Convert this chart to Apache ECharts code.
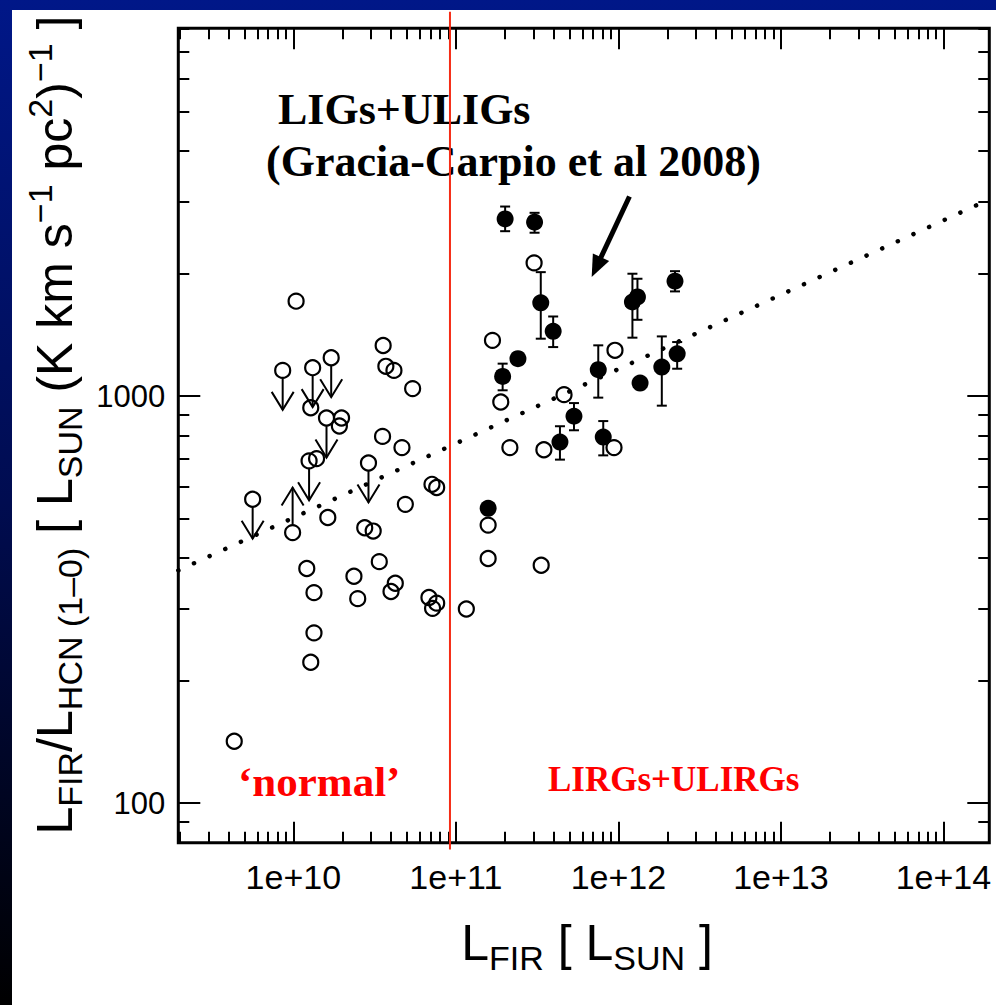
<!DOCTYPE html>
<html>
<head>
<meta charset="utf-8">
<script src="https://cdn.jsdelivr.net/npm/echarts@6/dist/echarts.min.js"></script>
<style>
html,body{margin:0;padding:0;background:#fff;}
#chart{width:996px;height:1005px;}
</style>
</head>
<body>
<div id="chart"></div>
<script>
// ---------------- data ----------------
const xRange = [1.96e9, 1.915e14];
const yRange = [80, 8000];
const xMajorTicks = [1e10, 1e11, 1e12, 1e13, 1e14];
const xTickLabels = ['1e+10', '1e+11', '1e+12', '1e+13', '1e+14'];
const yMajorTicks = [100, 1000];
const yTickLabels = ['100', '1000'];

// 'normal' galaxies, detections (open circles)
const normalX = [1.04e10, 1.28e10, 1.98e10, 1.92e10, 3.57e10, 3.71e10, 4.16e10, 5.42e10, 3.54e10, 4.66e10,
                 1.39e10, 1.63e10, 2.75e10, 3.10e10, 4.89e10, 7.13e10, 7.62e10, 1.21e10, 1.34e10, 2.36e10,
                 2.49e10, 3.38e10, 4.24e10, 3.99e10, 6.83e10, 7.62e10, 7.19e10, 1.16e11, 1.34e10, 1.28e10, 4.33e9];
const normalY = [1710, 936, 883, 844, 1331, 1183, 1156, 1043, 796, 747,
                 702, 503, 475, 466, 542, 607, 596, 377, 329, 361,
                 318, 392, 347, 331, 320, 310, 301, 300, 262, 222, 142];

// upper limits (open circle + down arrow)
const upperX = [8.6e9, 1.315e10, 1.71e10, 1.60e10, 1.25e10, 2.90e10, 5.62e9];
const upperY = [1156, 1174, 1242, 883, 693, 685, 558];
const upperArrowFactor = 0.8;
// lower limit (open circle + up arrow)
const lowerX = [9.9e9];
const lowerY = [462];
const lowerArrowFactor = 1.29;

// LIRGs, open circles
const lirgOpenX = [3.03e11, 1.68e11, 1.89e11, 2.15e11, 3.48e11, 4.63e11, 9.53e11, 9.4e11, 1.58e11, 1.58e11, 3.35e11];
const lirgOpenY = [2123, 1370, 967, 747, 738, 1008, 1295, 747, 399, 482, 384];

// LIGs+ULIGs (Gracia-Carpio et al 2008), filled circles with error bars
const filledX = [2.01e11, 3.05e11, 3.33e11, 3.97e11, 2.41e11, 1.94e11, 4.37e11, 5.33e11, 7.52e11, 8.07e11,
                 1.22e12, 1.31e12, 1.36e12, 1.85e12, 2.30e12, 2.23e12, 1.58e11];
const filledY = [2723, 2672, 1694, 1442, 1235, 1117, 771, 892, 1161, 793,
                 1702, 1751, 1076, 1178, 1270, 1914, 530];
const filledErrLo = [2540, 2518, 1383, 1319, null, 1033, 698, 824, 991, 715,
                     1391, 1539, null, 947, 1167, 1807, null];
const filledErrHi = [2920, 2818, 2015, 1568, null, 1201, 843, 961, 1332, 868,
                     1997, 1941, null, 1401, 1357, 2026, null];

// dotted fit line
const fitX = [1.96e9, 1.915e14];
const fitY = [373, 3040];

// vertical divider (red)
const dividerX = 9.2e10;
const dividerY = [77, 8790];

// annotation arrow
const pointerFrom = [1.17e12, 3091];
const pointerTo = [6.85e11, 1959];

// ---------------- helpers ----------------
const L = Math.log10;
function minorTicks(lo, hi) {
  const out = [];
  for (let e = Math.floor(L(lo)); e <= Math.ceil(L(hi)); e++) {
    for (let k = 2; k <= 9; k++) {
      const v = k * Math.pow(10, e);
      if (v >= lo && v <= hi) out.push(v);
    }
  }
  return out;
}
const xMinor = minorTicks(xRange[0], xRange[1]);
const yMinor = minorTicks(yRange[0], yRange[1]);

function labelFor(v, majors, labels) {
  for (let i = 0; i < majors.length; i++) if (Math.abs(L(majors[i]) - v) < 1e-6) return labels[i];
  return '';
}

const tickStyle = { color: '#000', width: 2 };
function xAxisCfg(position, ticks, len, withLabels) {
  return {
    type: 'value', position: position, min: L(xRange[0]), max: L(xRange[1]),
    axisLine: { show: false }, splitLine: { show: false },
    axisTick: { show: true, inside: true, length: len, customValues: ticks.map(L), lineStyle: tickStyle },
    axisLabel: withLabels ? {
      show: true, customValues: xMajorTicks.map(L), margin: 17, color: '#000',
      fontSize: 34, fontFamily: 'Liberation Sans',
      formatter: v => labelFor(v, xMajorTicks, xTickLabels)
    } : { show: false }
  };
}
function yAxisCfg(position, ticks, len, withLabels) {
  return {
    type: 'value', position: position, min: L(yRange[0]), max: L(yRange[1]),
    axisLine: { show: false }, splitLine: { show: false },
    axisTick: { show: true, inside: true, length: len, customValues: ticks.map(L), lineStyle: tickStyle },
    axisLabel: withLabels ? {
      show: true, customValues: yMajorTicks.map(L), margin: 13, color: '#000',
      fontSize: 31, fontFamily: 'Liberation Sans',
      formatter: v => labelFor(v, yMajorTicks, yTickLabels)
    } : { show: false }
  };
}

const pts = (xs, ys) => xs.map((x, i) => [L(x), L(ys[i])]);

const errData = [];
filledX.forEach((x, i) => {
  if (filledErrLo[i] != null) errData.push([L(x), L(filledY[i]), L(filledErrLo[i]), L(filledErrHi[i])]);
});
const limitData = [];
upperX.forEach((x, i) => limitData.push([L(x), L(upperY[i]), L(upperY[i] * upperArrowFactor)]));
lowerX.forEach((x, i) => limitData.push([L(x), L(lowerY[i]), L(lowerY[i] * lowerArrowFactor)]));

const blk = '#000';
const chart = echarts.init(document.getElementById('chart'), null, { renderer: 'svg' });

const option = {
  animation: false,
  backgroundColor: 'transparent',
  grid: {
    left: 178.3, top: 28.3, right: 6.7, bottom: 162.3,
    show: true, borderColor: '#000', borderWidth: 3, backgroundColor: 'transparent',
    outerBoundsMode: 'none'
  },
  xAxis: [
    xAxisCfg('bottom', xMajorTicks, 21, true),
    xAxisCfg('bottom', xMinor, 11, false),
    xAxisCfg('top', xMajorTicks, 21, false),
    xAxisCfg('top', xMinor, 11, false)
  ],
  yAxis: [
    yAxisCfg('left', yMajorTicks, 22, true),
    yAxisCfg('left', yMinor, 11, false),
    yAxisCfg('right', yMajorTicks, 22, false),
    yAxisCfg('right', yMinor, 11, false)
  ],
  graphic: [
    {
      type: 'rect', z: -100, silent: true,
      shape: { x: 0, y: 0, width: 996, height: 1005 },
      style: { fill: { type: 'linear', x: 0, y: 0, x2: 0, y2: 1,
        colorStops: [{ offset: 0, color: '#001788' }, { offset: 0.5, color: '#000c50' }, { offset: 1, color: '#000000' }] } }
    },
    {
      type: 'rect', z: -99, silent: true,
      shape: { x: 12, y: 10, width: 984, height: 995 },
      style: { fill: '#ffffff' }
    },
    {
      type: 'text', z: 1, silent: true, x: 278, y: 109,
      style: { text: 'LIGs+ULIGs', fill: '#000', font: 'bold 44px "Liberation Serif"',
        textAlign: 'left', align: 'left', textVerticalAlign: 'middle', verticalAlign: 'middle' }
    },
    {
      type: 'text', z: 1, silent: true, x: 266, y: 161,
      style: { text: '(Gracia-Carpio et al 2008)', fill: '#000', font: 'bold 44px "Liberation Serif"',
        textAlign: 'left', align: 'left', textVerticalAlign: 'middle', verticalAlign: 'middle' }
    },
    {
      type: 'text', z: 1, silent: true, x: 238, y: 781,
      style: { text: '\u2018normal\u2019', fill: '#ff0000', font: 'bold 43px "Liberation Serif"',
        textAlign: 'left', align: 'left', textVerticalAlign: 'middle', verticalAlign: 'middle' }
    },
    {
      type: 'text', z: 1, silent: true, x: 548, y: 779,
      style: { text: 'LIRGs+ULIRGs', fill: '#ff0000', font: 'bold 35px "Liberation Serif"',
        textAlign: 'left', align: 'left', textVerticalAlign: 'middle', verticalAlign: 'middle' }
    },
    {
      type: 'text', z: 1, silent: true, x: 587, y: 943,
      style: {
        text: '{m|L}{s|FIR}{m| [ L}{s|SUN}{m| ]}',
        textAlign: 'center', align: 'center', textVerticalAlign: 'middle', verticalAlign: 'middle',
        fill: '#000',
        rich: {
          m: { fontSize: 50, lineHeight: 50, fontFamily: 'Liberation Sans', fill: '#000' },
          s: { fontSize: 34, lineHeight: 34, fontFamily: 'Liberation Sans', fill: '#000', padding: [30, 0, 0, 0] }
        }
      }
    },
    {
      type: 'text', z: 1, silent: true, x: 55, y: 425, rotation: Math.PI / 2,
      style: {
        text: '{m|L}{s|FIR}{m|/L}{s|HCN (1\u20130)}{m| [ L}{s|SUN}{m| (K km s}{p|\u22121}{m| pc}{p|2}{m|)}{p|\u22121}{m| ]}',
        textAlign: 'center', align: 'center', textVerticalAlign: 'middle', verticalAlign: 'middle',
        fill: '#000',
        rich: {
          m: { fontSize: 50, lineHeight: 50, fontFamily: 'Liberation Sans', fill: '#000' },
          s: { fontSize: 34, lineHeight: 34, fontFamily: 'Liberation Sans', fill: '#000', padding: [30, 0, 0, 0] },
          p: { fontSize: 34, lineHeight: 34, fontFamily: 'Liberation Sans', fill: '#000', padding: [0, 0, 30, 0] }
        }
      }
    }
  ],
  series: [
    {
      name: 'fit', type: 'line', data: pts(fitX, fitY), showSymbol: false, symbol: 'none',
      lineStyle: { color: '#000', width: 4.5, type: [0.1, 17.1], cap: 'round', opacity: 1 }, silent: true, z: 2
    },
    {
      name: 'errorbars', type: 'custom', data: errData, silent: true, z: 3, clip: false,
      renderItem: function (params, api) {
        const x = api.value(0);
        const top = api.coord([x, api.value(3)]);
        const bot = api.coord([x, api.value(2)]);
        const w = 5;
        const st = { stroke: blk, lineWidth: 2 };
        return { type: 'group', children: [
          { type: 'line', shape: { x1: top[0], y1: top[1], x2: bot[0], y2: bot[1] }, style: st },
          { type: 'line', shape: { x1: top[0] - w, y1: top[1], x2: top[0] + w, y2: top[1] }, style: st },
          { type: 'line', shape: { x1: bot[0] - w, y1: bot[1], x2: bot[0] + w, y2: bot[1] }, style: st }
        ] };
      }
    },
    {
      name: 'limits', type: 'custom', data: limitData, silent: true, z: 3, clip: false,
      renderItem: function (params, api) {
        const c = api.coord([api.value(0), api.value(1)]);
        const t = api.coord([api.value(0), api.value(2)]);
        const dir = t[1] > c[1] ? 1 : -1;
        const r = 8, hw = 11, hh = 18;
        const st = { stroke: blk, lineWidth: 2, fill: 'none' };
        return { type: 'group', children: [
          { type: 'line', shape: { x1: c[0], y1: c[1] + dir * r, x2: t[0], y2: t[1] }, style: st },
          { type: 'polyline', shape: { points: [[t[0] - hw, t[1] - dir * hh], [t[0], t[1]], [t[0] + hw, t[1] - dir * hh]] }, style: st }
        ] };
      }
    },
    {
      name: 'normal', type: 'scatter', data: pts(normalX, normalY).concat(pts(upperX, upperY), pts(lowerX, lowerY)),
      symbol: 'circle', symbolSize: 15, silent: true, z: 4,
      itemStyle: { color: 'rgba(255,255,255,0)', borderColor: blk, borderWidth: 2.2, opacity: 1 }
    },
    {
      name: 'LIRGs', type: 'scatter', data: pts(lirgOpenX, lirgOpenY),
      symbol: 'circle', symbolSize: 15, silent: true, z: 4,
      itemStyle: { color: 'rgba(255,255,255,0)', borderColor: blk, borderWidth: 2.2, opacity: 1 }
    },
    {
      name: 'LIGs+ULIGs', type: 'scatter', data: pts(filledX, filledY),
      symbol: 'circle', symbolSize: 17, silent: true, z: 5,
      itemStyle: { color: blk, borderWidth: 0, opacity: 1 }
    },
    {
      name: 'pointer', type: 'custom', data: [[L(pointerFrom[0]), L(pointerFrom[1]), L(pointerTo[0]), L(pointerTo[1])]],
      silent: true, z: 6, clip: false,
      renderItem: function (params, api) {
        const a = api.coord([api.value(0), api.value(1)]);
        const b = api.coord([api.value(2), api.value(3)]);
        const dx = b[0] - a[0], dy = b[1] - a[1], len = Math.hypot(dx, dy);
        const ux = dx / len, uy = dy / len, hl = 22, hw = 9;
        const bx = b[0] - ux * hl, by = b[1] - uy * hl;
        return { type: 'group', children: [
          { type: 'line', shape: { x1: a[0], y1: a[1], x2: bx + ux * 2, y2: by + uy * 2 }, style: { stroke: blk, lineWidth: 5 } },
          { type: 'polygon', shape: { points: [[b[0], b[1]], [bx - uy * hw, by + ux * hw], [bx + uy * hw, by - ux * hw]] }, style: { fill: blk } }
        ] };
      }
    },
    {
      name: 'divider', type: 'custom', data: [[L(dividerX), L(dividerY[0]), L(dividerY[1])]],
      silent: true, z: 10, clip: false,
      renderItem: function (params, api) {
        const a = api.coord([api.value(0), api.value(1)]);
        const b = api.coord([api.value(0), api.value(2)]);
        return { type: 'line', shape: { x1: a[0], y1: a[1], x2: b[0], y2: b[1] }, style: { stroke: '#f52b14', lineWidth: 2 } };
      }
    }
  ]
};
chart.setOption(option);
</script>
</body>
</html>
